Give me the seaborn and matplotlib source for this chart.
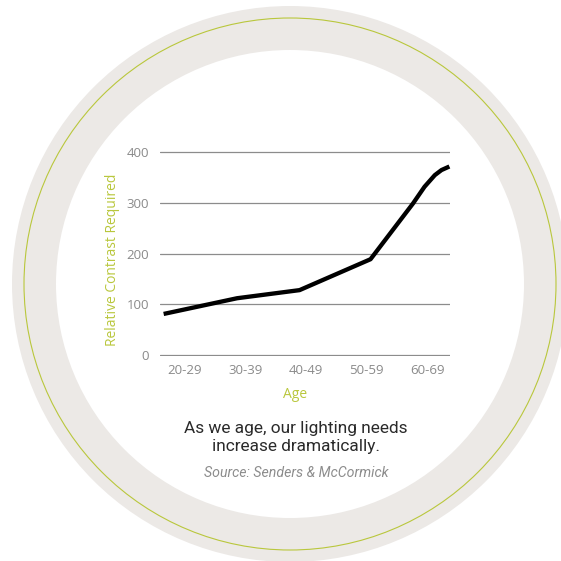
import pandas as pd
import matplotlib.pyplot as plt
import seaborn as sns
from matplotlib.patches import Circle

# data (age in years, relative contrast)
age = [21.5, 33.6, 43.9, 55.6, 62.6, 64.5, 66.2, 67.3, 68.6]
contrast = [81, 112, 128, 189, 299, 332, 355, 365, 372]
tick_pos = [25, 35, 45, 55, 65]
tick_labels = ['20-29', '30-39', '40-49', '50-59', '60-69']
y_ticks = [0, 100, 200, 300, 400]

df = pd.DataFrame({'Age': age, 'Contrast': contrast})

sns.set_style('white')
plt.rcParams['font.family'] = ['Open Sans', 'DejaVu Sans']

green = '#b9c73c'
grey_txt = '#8a8a8a'

fig = plt.figure(figsize=(5.61, 5.61), dpi=100)
fig.patch.set_facecolor('white')

# background rings
cx, cy = 290 / 561, 1 - 284 / 561
fig.patches.append(Circle((cx, cy), 278 / 561, transform=fig.transFigure,
                          facecolor='#ece9e6', edgecolor='none', zorder=-3))
fig.patches.append(Circle((cx, cy), 234 / 561, transform=fig.transFigure,
                          facecolor='white', edgecolor='none', zorder=-2))
fig.patches.append(Circle((cx, cy), 266 / 561, transform=fig.transFigure,
                          facecolor='none', edgecolor=green, linewidth=0.8, zorder=-1))

ax = fig.add_axes([160 / 561, 205 / 561, 290 / 561, 204.7 / 561])
ax.set_zorder(3)
ax.set_facecolor('none')

sns.lineplot(x='Age', y='Contrast', data=df, ax=ax, color='black', linewidth=3.1,
             solid_joinstyle='round', solid_capstyle='butt', clip_on=False, zorder=3)

ax.set_xlim(20.9, 68.7)
ax.set_ylim(-2, 402)
ax.set_yticks(y_ticks)
ax.set_xticks(tick_pos)
ax.set_xticklabels(tick_labels)
ax.tick_params(axis='both', length=0, labelsize=9.5, labelcolor=grey_txt)
ax.tick_params(axis='y', pad=8)
ax.tick_params(axis='x', pad=6)
for s in ax.spines.values():
    s.set_visible(False)
ax.grid(axis='y', color='#8c8c8c', linewidth=0.9)
ax.grid(axis='x', visible=False)
ax.set_xlabel('')
ax.set_ylabel('')

fig.text(112.5 / 561, 1 - 260 / 561, 'Relative Contrast Required', rotation=90,
         ha='center', va='center', color=green, fontsize=10)
fig.text(295 / 561, 1 - 394 / 561, 'Age', ha='center', va='center', color=green, fontsize=10)

fig.text(296 / 561, 1 - 437.5 / 561, 'As we age, our lighting needs\nincrease dramatically.',
         ha='center', va='center', color='#2a2a2a', fontsize=12.4, linespacing=1.22,
         family=['Roboto', 'DejaVu Sans'])
fig.text(296 / 561, 1 - 473 / 561, 'Source: Senders & McCormick', ha='center', va='center',
         color='#8c8c8c', fontsize=10.2, style='italic',
         family=['Roboto', 'DejaVu Sans'])

plt.savefig('out.png', dpi=100, facecolor='white')
